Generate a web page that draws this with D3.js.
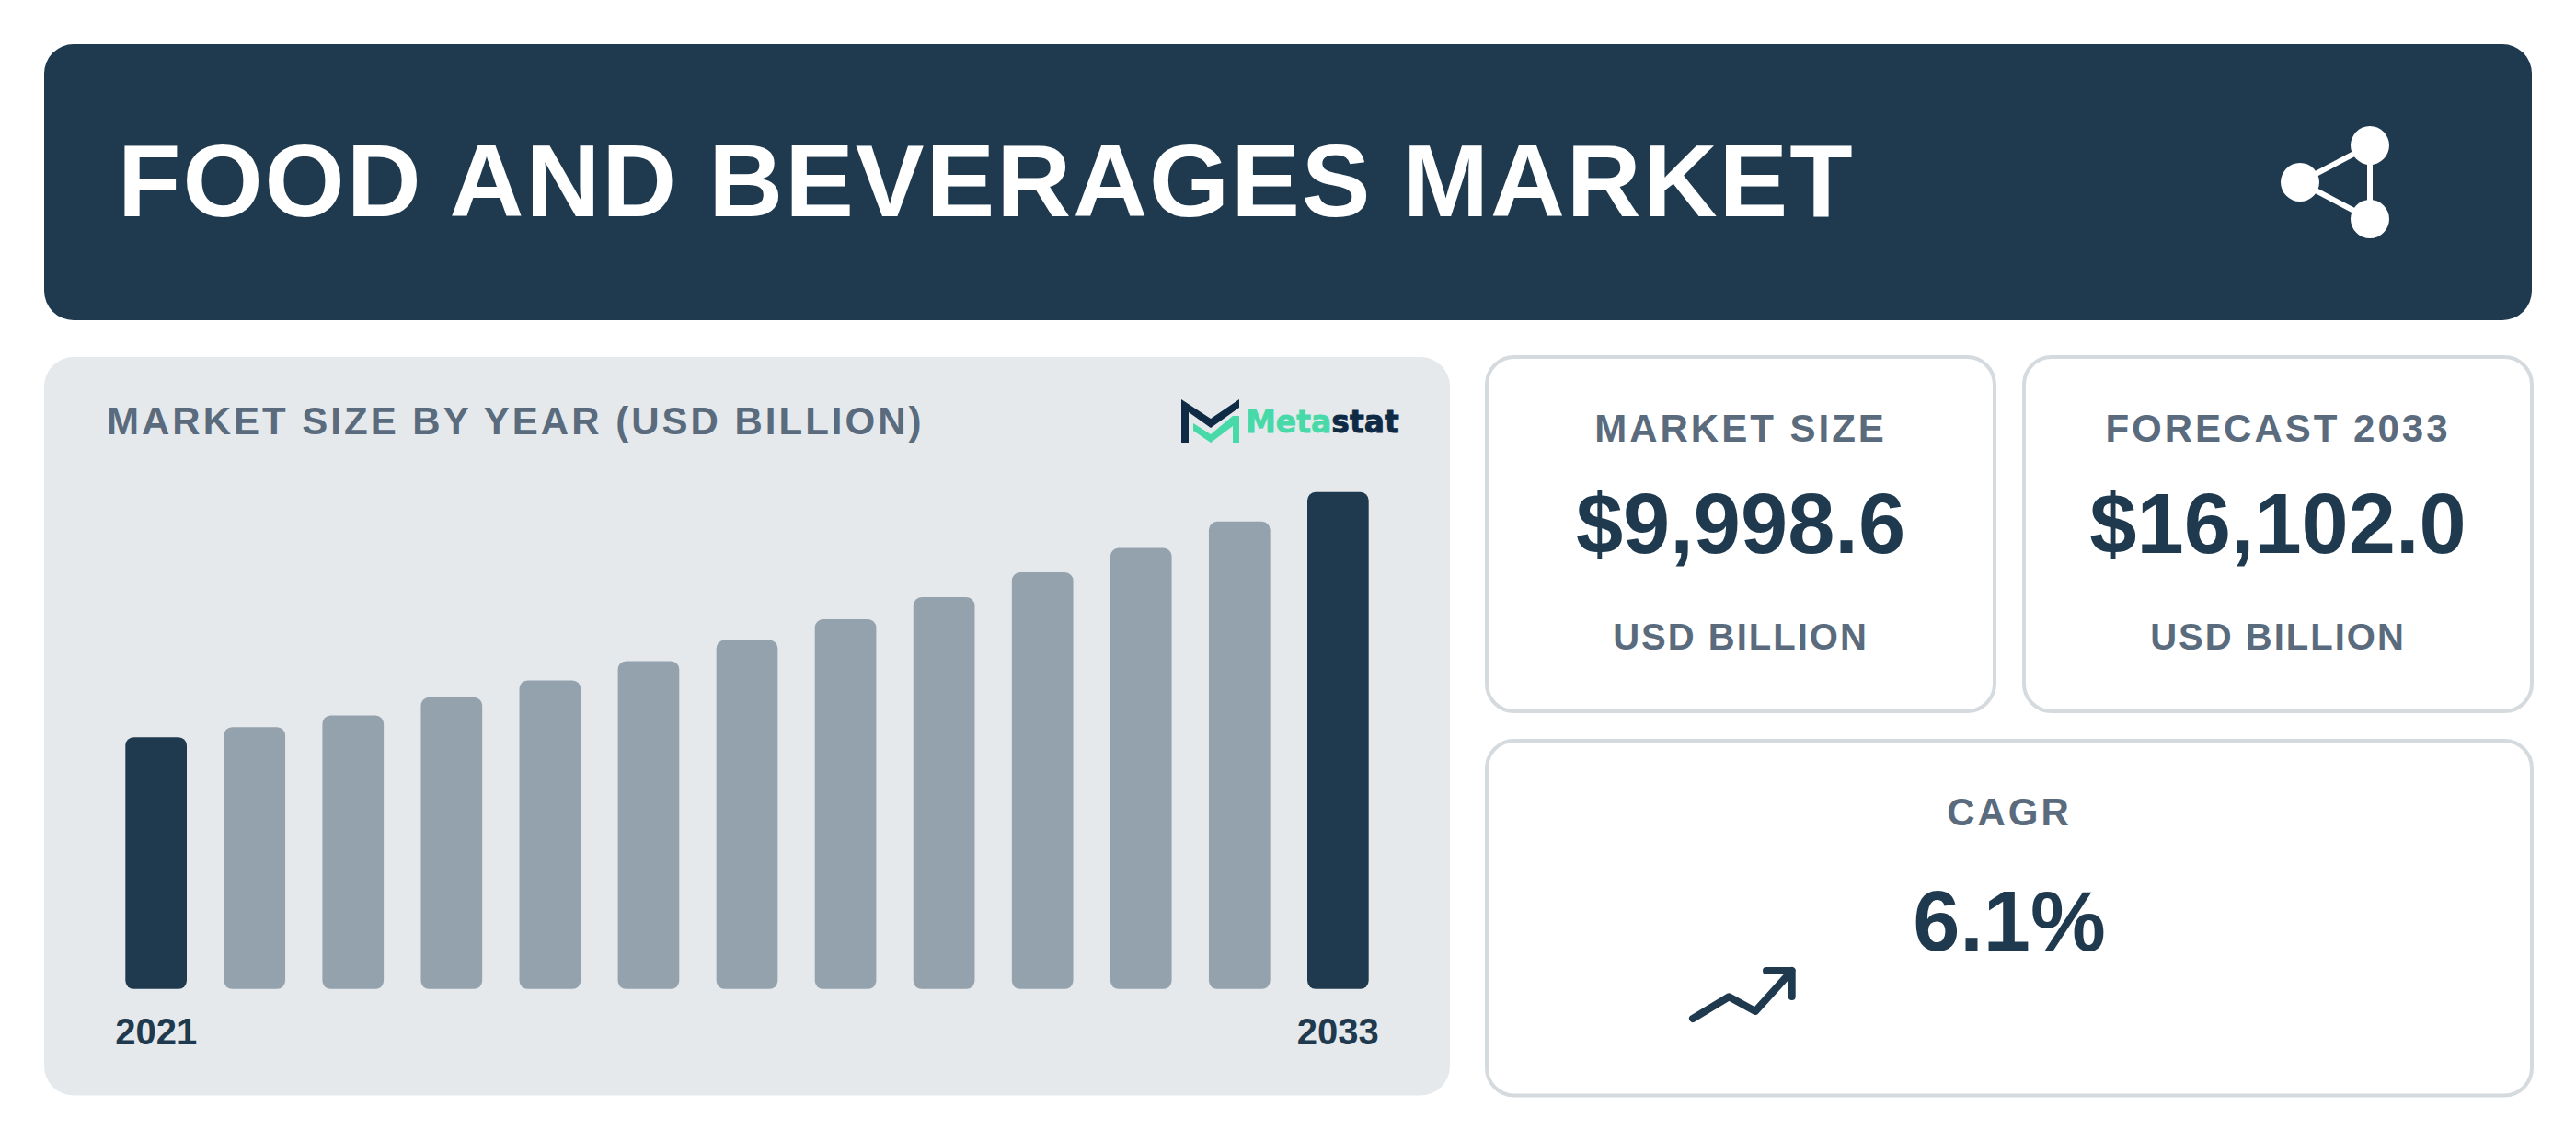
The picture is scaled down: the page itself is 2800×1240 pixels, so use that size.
<!DOCTYPE html>
<html>
<head>
<meta charset="utf-8">
<title>Food and Beverages Market</title>
<script src="https://cdn.jsdelivr.net/npm/d3@7"></script>
<style>
  body { margin: 0; background: #fff; }
  svg { display: block; font-family: "Liberation Sans", Arial, sans-serif; }
</style>
</head>
<body>
<div id="chart"></div>
<script>
const years = [2021, 2022, 2023, 2024, 2025, 2026, 2027, 2028, 2029, 2030, 2031, 2032, 2033];
const marketSize = [8160, 8488, 8864, 9452, 9999, 10625, 11310, 11978, 12694, 13499, 14292, 15148, 16102];
const yearTicks = [2021, 2033];
const highlightYears = [2021, 2033];

const title = "FOOD AND BEVERAGES MARKET";
const chartTitle = "MARKET SIZE BY YEAR (USD BILLION)";
const statLabels = ["MARKET SIZE", "FORECAST 2033", "CAGR"];
const statValues = ["$9,998.6", "$16,102.0", "6.1%"];
const statUnit = "USD BILLION";

const navy = "#1f3a4e";
const slate = "#5a6b7d";
const barGrey = "#94a2ad";
const panelGrey = "#e5e9ec";
const cardLine = "#d5dade";

const svg = d3.select("#chart")
  .append("svg")
  .attr("width", 2800)
  .attr("height", 1240);

// header
svg.append("rect")
  .attr("x", 48).attr("y", 48)
  .attr("width", 2704).attr("height", 300)
  .attr("rx", 32)
  .attr("fill", navy);

svg.append("text")
  .attr("x", 128).attr("y", 235)
  .attr("font-size", 112)
  .attr("font-weight", 700)
  .attr("letter-spacing", 2)
  .attr("fill", "#fff")
  .text(title);

// share icon
const share = svg.append("g").attr("fill", "#fff").attr("stroke", "#fff");
share.append("path")
  .attr("d", "M2576 158L2500 198L2576 238Z")
  .attr("fill", "none")
  .attr("stroke-width", 6);
[[2500, 198], [2576, 158], [2576, 238]].forEach(c => {
  share.append("circle")
    .attr("cx", c[0]).attr("cy", c[1])
    .attr("r", 21)
    .attr("stroke", "none");
});

// bar panel
svg.append("rect")
  .attr("x", 48).attr("y", 388)
  .attr("width", 1528).attr("height", 802.5)
  .attr("rx", 32)
  .attr("fill", panelGrey);

svg.append("text")
  .attr("x", 116).attr("y", 472)
  .attr("font-size", 42)
  .attr("font-weight", 700)
  .attr("letter-spacing", 3)
  .attr("fill", slate)
  .text(chartTitle);

const x = d3.scaleBand()
  .domain(years)
  .range([136.3, 1487.7])
  .paddingInner(0.377)
  .paddingOuter(0);

const y = d3.scaleLinear()
  .domain([0, 16102])
  .range([1074.8, 534.8]);

svg.append("g")
  .selectAll("rect")
  .data(years)
  .enter()
  .append("rect")
  .attr("x", d => x(d))
  .attr("y", (d, i) => y(marketSize[i]))
  .attr("width", x.bandwidth())
  .attr("height", (d, i) => y(0) - y(marketSize[i]))
  .attr("rx", 9)
  .attr("fill", d => highlightYears.includes(d) ? navy : barGrey);

const xAxis = svg.append("g")
  .attr("transform", "translate(0,1074.8)")
  .call(d3.axisBottom(x).tickValues(yearTicks).tickSize(0).tickPadding(32));
xAxis.select(".domain").remove();
xAxis.selectAll("text")
  .attr("font-family", "Liberation Sans")
  .attr("font-size", 40)
  .attr("font-weight", 700)
  .attr("fill", navy);

// Metastat logo
const logo = svg.append("g");
logo.append("polygon")
  .attr("points", "1284,481 1284,434 1316,455 1347,434 1347,443 1316,465 1292,448 1292,481")
  .attr("fill", "#0f2a45");
logo.append("polygon")
  .attr("points", "1297,460 1316,472 1340,452 1347,452 1347,481 1340,481 1340,463 1316,481 1297,468")
  .attr("fill", "#47d9a8");
const logoText = logo.append("text")
  .attr("x", 1354).attr("y", 470)
  .attr("font-family", "DejaVu Sans")
  .attr("font-size", 33)
  .attr("font-weight", 700)
  .attr("stroke-width", 0.8);
logoText.append("tspan").attr("fill", "#47d9a8").attr("stroke", "#47d9a8").text("Meta");
logoText.append("tspan").attr("fill", "#0f2a45").attr("stroke", "#0f2a45").text("stat");

// stat cards
const cards = [
  { x: 1616, y: 388, w: 552, h: 385 },
  { x: 2200, y: 388, w: 552, h: 385 },
  { x: 1616, y: 805, w: 1136, h: 385.5 }
];

svg.append("g")
  .selectAll("rect")
  .data(cards)
  .enter()
  .append("rect")
  .attr("x", d => d.x).attr("y", d => d.y)
  .attr("width", d => d.w).attr("height", d => d.h)
  .attr("rx", 30)
  .attr("fill", "#fff")
  .attr("stroke", cardLine)
  .attr("stroke-width", 4);

function cardText(cx, baseline, size, color, spacing, txt) {
  svg.append("text")
    .attr("x", cx).attr("y", baseline)
    .attr("text-anchor", "middle")
    .attr("font-size", size)
    .attr("font-weight", 700)
    .attr("letter-spacing", spacing)
    .attr("fill", color)
    .text(txt);
}

cards.forEach((c, i) => {
  const cx = c.x + c.w / 2;
  if (i < 2) {
    cardText(cx, 480, 42, slate, 3, statLabels[i]);
    cardText(cx, 601, 92, navy, 0, statValues[i]);
    cardText(cx, 706, 40, slate, 2, statUnit);
  } else {
    cardText(cx, 897, 42, slate, 3, statLabels[i]);
    cardText(cx, 1033, 92, navy, 0, statValues[i]);
  }
});

// trend arrow
svg.append("path")
  .attr("d", "M1840 1107L1879.3 1083.3L1908 1099L1947.7 1055M1920 1055H1947.7V1083")
  .attr("fill", "none")
  .attr("stroke", navy)
  .attr("stroke-width", 8)
  .attr("stroke-linecap", "round")
  .attr("stroke-linejoin", "round");
</script>
</body>
</html>
